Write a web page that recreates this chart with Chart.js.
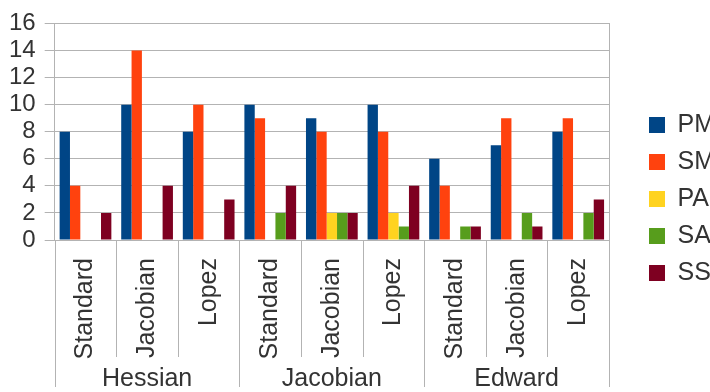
<!DOCTYPE html>
<html>
<head>
<meta charset="utf-8">
<script src="https://cdn.jsdelivr.net/npm/chart.js@4"></script>
<style>
  html, body { margin: 0; padding: 0; background: #fff; overflow: hidden; }
  #wrap { width: 710px; height: 392px; overflow: hidden; }
</style>
</head>
<body>
<div id="wrap"><canvas id="chart" width="725" height="392"></canvas></div>
<script>
const groups = ["Hessian", "Jacobian", "Edward"];
const methods = ["Standard", "Jacobian", "Lopez"];
const yTicks = [0, 2, 4, 6, 8, 10, 12, 14, 16];

const pm = [8, 10, 8, 10, 9, 10, 6, 7, 8];
const sm = [4, 14, 10, 9, 8, 8, 4, 9, 9];
const pa = [0, 0, 0, 0, 2, 2, 0, 0, 0];
const sa = [0, 0, 0, 2, 2, 1, 1, 2, 2];
const ss = [2, 4, 3, 4, 2, 4, 1, 1, 3];

const labels = groups.flatMap(() => methods);
const gridColor = "#b3b3b3";
const textColor = "#333333";
const font = "'Liberation Sans', Arial, sans-serif";

// separators between categories, longer ones between groups
const separators = {
  id: "separators",
  afterDraw(chart) {
    const x = chart.scales.x;
    const ctx = chart.ctx;
    const n = labels.length;
    ctx.save();
    ctx.strokeStyle = gridColor;
    ctx.lineWidth = 1;
    for (let i = 0; i <= n; i++) {
      let px;
      if (i === 0) px = x.left;
      else if (i === n) px = x.right;
      else px = (x.getPixelForValue(i - 1) + x.getPixelForValue(i)) / 2;
      px = Math.round(px) + 0.5;
      const end = i % methods.length === 0 ? chart.height - 5 : x.bottom - 3;
      ctx.beginPath();
      ctx.moveTo(px, chart.chartArea.bottom);
      ctx.lineTo(px, end);
      ctx.stroke();
    }
    ctx.restore();
  },
};

new Chart(document.getElementById("chart"), {
  type: "bar",
  data: {
    labels: labels,
    datasets: [
      { label: "PM", data: pm, backgroundColor: "#004586" },
      { label: "SM", data: sm, backgroundColor: "#ff420e" },
      { label: "PA", data: pa, backgroundColor: "#ffd320" },
      { label: "SA", data: sa, backgroundColor: "#579d1c" },
      { label: "SS", data: ss, backgroundColor: "#7e0021" },
    ],
  },
  options: {
    responsive: false,
    animation: false,
    datasets: { bar: { categoryPercentage: 0.84, barPercentage: 1.0 } },
    layout: { padding: { top: 6, left: 0, right: 0, bottom: 0 } },
    plugins: {
      tooltip: { enabled: false },
      legend: {
        position: "right",
        labels: {
          boxWidth: 16,
          boxHeight: 16,
          padding: 12,
          color: textColor,
          font: { family: font, size: 25 },
        },
      },
    },
    scales: {
      x: {
        position: "bottom",
        offset: true,
        grid: { display: false, drawTicks: false },
        border: { display: true, color: gridColor },
        ticks: {
          minRotation: 90,
          maxRotation: 90,
          padding: 18,
          color: textColor,
          font: { family: font, size: 25 },
        },
        afterFit(scale) {
          scale.height = 120;
        },
      },
      x2: {
        type: "category",
        position: "bottom",
        labels: groups,
        offset: true,
        grid: { display: false, drawTicks: false },
        border: { display: false },
        ticks: {
          padding: 4,
          color: textColor,
          font: { family: font, size: 25 },
        },
        afterFit(scale) {
          scale.height = 32;
        },
      },
      y: {
        min: 0,
        max: 16,
        afterBuildTicks(scale) {
          scale.ticks = yTicks.map((v) => ({ value: v }));
        },
        grid: { color: gridColor, tickLength: 10 },
        border: { color: gridColor },
        ticks: {
          autoSkip: false,
          padding: 9,
          color: textColor,
          font: { family: font, size: 24 },
        },
      },
      y2: {
        position: "right",
        min: 0,
        max: 16,
        grid: { drawOnChartArea: false, drawTicks: false },
        border: { display: true, color: gridColor },
        ticks: { display: false },
        afterFit(scale) {
          scale.width = 28;
        },
      },
    },
  },
  plugins: [separators],
});
</script>
</body>
</html>
